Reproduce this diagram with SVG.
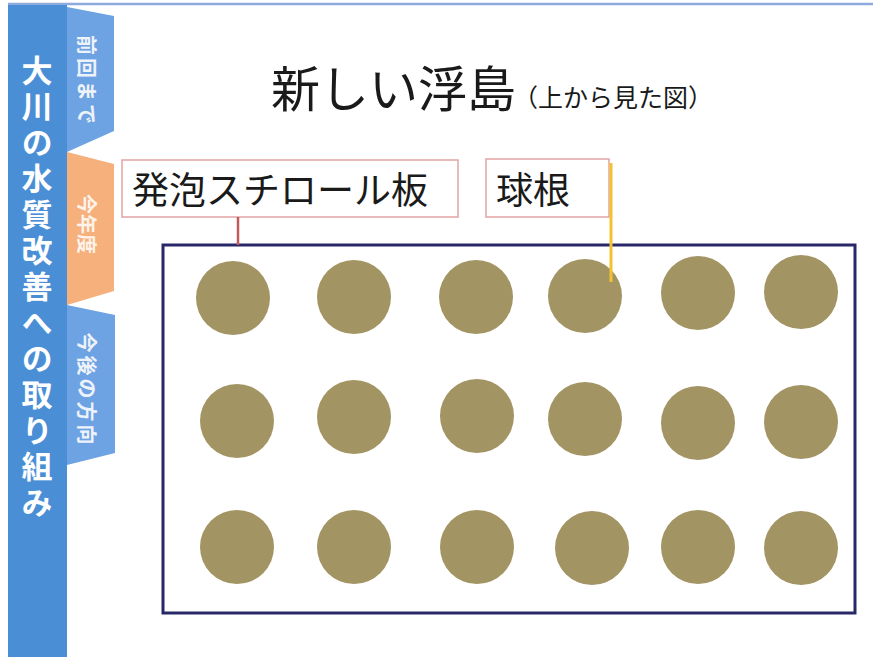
<svg xmlns="http://www.w3.org/2000/svg" width="873" height="657" viewBox="0 0 873 657">
<style>
.jp{font-family:"Noto Sans CJK JP","Noto Sans",sans-serif;}
.tabt{font-family:"Noto Sans CJK JP",sans-serif;font-size:20px;fill:#eef3fb;font-weight:bold;}
.bulb{fill:#a39463;}
.lbl{fill:#ffffff;stroke:#e4a3a3;stroke-width:1.5;}
</style>
<rect x="0" y="0" width="873" height="657" fill="#ffffff"/>
<line x1="8" y1="4" x2="873" y2="4" stroke="#8eaadf" stroke-width="2.5"/>
<g id="sidebar">
  <rect x="8" y="5" width="59" height="652" fill="#4a8fd6"/>
  <text class="jp" x="37" y="55" writing-mode="vertical-rl" font-size="31" font-weight="bold" fill="#ffffff" letter-spacing="5">大川の水質改善への取り組み</text>
</g>
<g id="tab1">
  <polygon points="67,7 114,16 114,131 67,152" fill="#6ea3e3"/>
  <text class="tabt" transform="translate(79,81) rotate(90)" text-anchor="middle" letter-spacing="3">前回まで</text>
</g>
<g id="tab2">
  <polygon points="67,152 114,164 114,291 67,305" fill="#f5b07c"/>
  <text class="tabt" transform="translate(79,224) rotate(90)" text-anchor="middle" style="fill:#fdf3eb">今年度</text>
</g>
<g id="tab3">
  <polygon points="67,305 115,315 115,453 67,465" fill="#6ea3e3"/>
  <text class="tabt" transform="translate(79,390) rotate(90)" text-anchor="middle" letter-spacing="3">今後の方向</text>
</g>
<g id="title">
  <text class="jp" x="271" y="107" font-size="49" fill="#1a1a1a">新しい浮島</text>
  <text class="jp" x="513" y="107" font-size="25" fill="#1a1a1a">（上から見た図）</text>
</g>
<g id="float">
  <rect x="163" y="245" width="692" height="368" fill="#ffffff" stroke="#282868" stroke-width="3"/>
</g>
<g id="bulbs">
  <circle class="bulb" cx="233" cy="298" r="37"/>
  <circle class="bulb" cx="354" cy="297" r="37"/>
  <circle class="bulb" cx="476" cy="297" r="37"/>
  <circle class="bulb" cx="585" cy="296" r="37"/>
  <circle class="bulb" cx="698" cy="293" r="37"/>
  <circle class="bulb" cx="801" cy="292" r="37"/>
  <circle class="bulb" cx="237" cy="421" r="37"/>
  <circle class="bulb" cx="354" cy="417" r="37"/>
  <circle class="bulb" cx="477" cy="416" r="37"/>
  <circle class="bulb" cx="585" cy="419" r="37"/>
  <circle class="bulb" cx="698" cy="423" r="37"/>
  <circle class="bulb" cx="801" cy="422" r="37"/>
  <circle class="bulb" cx="237" cy="547" r="37"/>
  <circle class="bulb" cx="354" cy="547" r="37"/>
  <circle class="bulb" cx="477" cy="547" r="37"/>
  <circle class="bulb" cx="592" cy="548" r="37"/>
  <circle class="bulb" cx="698" cy="547" r="37"/>
  <circle class="bulb" cx="801" cy="548" r="37"/>
</g>
<g id="label-foam">
  <rect class="lbl" x="122" y="160" width="336" height="57"/>
  <text class="jp" x="132" y="204" font-size="37" fill="#1a1a1a">発泡スチロール板</text>
</g>
<g id="label-bulb">
  <rect class="lbl" x="486" y="159" width="123" height="58"/>
  <text class="jp" x="496" y="204" font-size="37" fill="#1a1a1a">球根</text>
</g>
<g id="connectors">
  <line x1="238" y1="217" x2="238" y2="245" stroke="#c25a5a" stroke-width="2.5"/>
  <line x1="611" y1="163" x2="611" y2="282" stroke="#f2c232" stroke-width="3"/>
</g>
</svg>
